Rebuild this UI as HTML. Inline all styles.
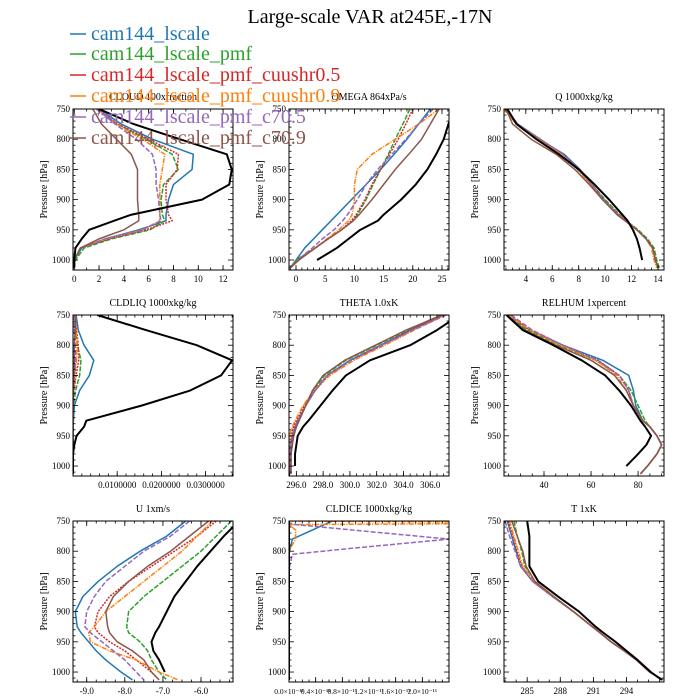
<!DOCTYPE html>
<html><head><meta charset="utf-8"><style>
html,body{margin:0;padding:0;background:#fff;}
svg{display:block;font-family:"Liberation Serif",serif;}
</style></head><body>
<svg id="chart" width="700" height="700" viewBox="0 0 700 700" xmlns="http://www.w3.org/2000/svg">
<rect width="700" height="700" fill="#fff"/>
<text x="370" y="23" font-size="20" text-anchor="middle">Large-scale VAR at245E,-17N</text>
</svg>
<script>
// ---- data ----
const seriesNames = ["cam144_lscale","cam144_lscale_pmf","cam144_lscale_pmf_cuushr0.5","cam144_lscale_pmf_cuushr0.9","cam144_lscale_pmf_c70.5","cam144_lscale_pmf_c70.9","obs"];
const levels = [750,775,800,825,850,875,900,925,935,950,965,980,1000,1013];
const iceLevels = [750,753,756,765,780,795,805,830,1013];
const cloudVals = [
 [2,3.8,6.3,9.6,9.5,8.0,7.6,7.4,7.4,5.2,2.5,0.6,0,0],
 [1.8,3.5,5.8,7.9,8.4,7.2,7.0,7.1,7.3,6.1,3,0.8,0.1,0],
 [1.9,3.5,6.0,8.4,8.3,7.4,7.4,7.6,7.9,5.8,2.8,0.5,0,0],
 [1.8,3.4,5.5,7.3,7.1,6.9,6.9,6.9,6.9,5.5,2.5,0.5,0,0],
 [1.8,3.3,5.0,6.3,6.6,6.6,6.8,6.9,7.0,5.5,2.5,0.5,0,0],
 [1.5,2.2,3.4,4.6,5.1,5.1,5.1,5.2,5.2,4.0,2.0,0.5,0,0],
 [2,4.8,8.5,12.3,12.7,12.5,10.3,4.6,3.2,1.2,0.6,0.1,0,0]];
const omegaVals = [
 [23,21,19,16.8,14.5,12,9.5,7,6,4.5,3,1.5,0,-1],
 [19.5,18.3,17,15.8,14.5,13.2,12,10.5,9.8,7.8,5.5,3.3,0,-1],
 [20,18.8,17.5,16,14.5,13,11.8,10.3,9.5,7.8,5.5,3.3,0.3,-1],
 [24.5,21,17,13,10.5,10,10,9.6,9,7.3,5.3,3.3,0.5,-1],
 [23.5,21,18.8,16.4,14,12,10.5,8.8,8,6.5,4.5,2.8,0.3,-1],
 [24.5,23,21.5,19.3,17,15,13,10.8,9.8,7.8,5.5,3.3,0.5,-1],
 [27,26.1,25.3,24,22.5,20.5,18,15,14,11,9,7,3.6,null]];
const qVals = [
 [2.4,3.3,5.0,6.9,8.1,9.0,9.9,11.0,11.6,12.4,13.1,13.6,13.8,14],
 [2.4,3.4,5.1,6.8,8.0,9.0,10.0,11.1,11.6,12.5,13.2,13.7,13.9,14.1],
 [2.4,3.3,5.0,6.8,8.0,8.9,9.9,11.0,11.6,12.4,13.1,13.6,13.8,14],
 [2.3,3.3,5.0,6.7,7.9,8.9,9.8,11.0,11.6,12.4,13.1,13.5,13.7,13.9],
 [2.5,3.4,5.1,6.8,8.0,9.0,9.9,11.0,11.6,12.4,13.1,13.6,13.8,14],
 [2.5,3.0,4.4,6.3,7.7,8.8,9.8,10.9,11.5,12.4,13.1,13.6,13.8,14],
 [2.6,3.3,4.8,6.5,8.0,9.2,10.3,11.3,11.7,12.1,12.4,12.6,12.8,null]];
const liqVals = [
 [0.0007,0.0012,0.0025,0.0047,0.0037,0.0015,0.0003,0.0001,0,0,0,0,0,0],
 [0.0002,0.0005,0.001,0.0018,0.0015,0.0006,0.0001,0,0,0,0,0,0,0],
 [0.0005,0.0008,0.0012,0.0013,0.0007,0.0002,0,0,0,0,0,0,0,0],
 [0.0006,0.0007,0.0009,0.0008,0.0004,0.0001,0,0,0,0,0,0,0,0],
 [0.0002,0.0003,0.0005,0.0006,0.0003,0.0001,0,0,0,0,0,0,0,0],
 [0.0006,0.0005,0.0003,0.0003,0.0002,0.0001,0,0,0,0,0,0,0,0],
 [0.0055,0.0165,0.028,0.036,0.0335,0.0265,0.0155,0.003,0.0025,0.0008,0.0003,0,0,0]];
const thetaVals = [
 [307,304.5,302.3,300,298.3,297.4,296.7,296.1,295.9,295.7,295.6,295.5,295.5,295.5],
 [306.8,304.3,302.0,299.7,298.1,297.3,296.7,296.2,296.0,295.8,295.7,295.6,295.6,295.6],
 [307,304.6,302.4,300.1,298.4,297.4,296.6,296.0,295.8,295.6,295.5,295.5,295.5,295.5],
 [307.1,304.8,302.6,300.3,298.5,297.3,296.5,295.9,295.7,295.5,295.4,295.4,295.4,295.4],
 [307.2,304.7,302.4,300.1,298.3,297.4,296.7,296.1,295.9,295.7,295.6,295.5,295.5,295.5],
 [306.9,304.2,301.9,299.6,298.0,297.2,296.7,296.2,296.0,295.8,295.7,295.6,295.6,295.6],
 [308.2,306.5,304.5,301.5,299.7,298.7,297.8,296.9,296.5,296.1,296.0,295.9,295.9,null]];
const rhVals = [
 [25,34,48,65,76,78,79,82,85,88,90,88,84,81],
 [24,33,46,62,72,77,80,83,85,88,90,88,84,81],
 [25,34,48,63,72,76,78,82,85,88,90,88,84,81],
 [25,34,47,62,71,75,78,82,85,88,90,88,84,81],
 [26,35,48,63,72,76,78,82,85,88,90,88,84,81],
 [24,32,45,60,70,75,78,82,85,88,90,88,84,81],
 [24,31,44,56,66,72,77,81,83,85.5,83.5,80,75,null]];
const uVals = [
 [-6.4,-6.9,-7.6,-8.2,-8.7,-9.1,-9.3,-9.25,-9.15,-8.95,-8.75,-8.5,-8.1,-7.8],
 [-5.2,-5.6,-6.0,-6.5,-7.0,-7.5,-7.9,-7.95,-7.9,-7.6,-7.4,-7.3,-7.1,-6.9],
 [-5.6,-6.1,-6.7,-7.3,-7.9,-8.4,-8.7,-8.8,-8.7,-8.4,-8.0,-7.7,-7.3,-7.1],
 [-5.7,-6.1,-6.5,-7.0,-7.5,-8.0,-8.5,-8.8,-8.95,-8.9,-8.4,-7.7,-7.1,-6.6],
 [-6.3,-6.8,-7.5,-8.0,-8.5,-8.8,-9.0,-9.05,-8.9,-8.6,-8.3,-8.0,-7.7,-7.5],
 [-5.8,-6.3,-6.8,-7.4,-7.9,-8.3,-8.5,-8.45,-8.4,-8.2,-7.8,-7.5,-7.3,-7.1],
 [-5.0,-5.4,-5.75,-6.1,-6.4,-6.7,-6.9,-7.1,-7.2,-7.3,-7.25,-7.1,-6.95,null]];
const iceVals = [
 [0.65,0.59,0.53,0.35,0.05,0.02,0,0,0],
 [0,0,0,0,0,0,0,0,0],
 [0,0,0,0,0,0,0,0,0],
 [0,5,0,0.1,0.1,0.02,0,0,0],
 [0,0,0.1,0.96,2.4,0.96,0.05,0,0],
 [0,0,0,0,0,0,0,0,0],
 [0,0,0,0,0,0,0,0,0]];
const tVals = [
 [283.2,283.6,284.0,284.4,285.5,287.3,289.2,290.9,291.6,292.6,293.8,294.9,296.1,297.3],
 [283.8,284.1,284.5,284.8,285.7,287.4,289.2,290.9,291.6,292.6,293.8,294.9,296.1,297.3],
 [283.3,283.7,284.1,284.5,285.5,287.3,289.2,290.9,291.6,292.6,293.8,294.9,296.1,297.3],
 [283.4,283.8,284.2,284.6,285.6,287.3,289.2,290.9,291.6,292.6,293.8,294.9,296.1,297.3],
 [283.0,283.4,283.9,284.4,285.5,287.3,289.2,290.9,291.6,292.6,293.8,294.9,296.1,297.3],
 [283.6,284.1,284.6,284.9,285.7,287.4,289.2,290.9,291.6,292.6,293.8,294.9,296.1,297.3],
 [285,285.2,285.2,285.2,286,287.8,289.7,291.2,291.9,293,294,295,296.2,297.2]];
const pTicks = [750,800,850,900,950,1000];
const cloudTicks = [0,2,4,6,8,10,12];
const omegaTicks = [0,5,10,15,20,25];
const qTicks = [4,6,8,10,12,14];
const liqTicks = [0.01,0.02,0.03];
const liqTickLabels = ["0.0100000","0.0200000","0.0300000"];
const thetaTicks = [296,298,300,302,304,306];
const rhTicks = [40,60,80];
const uTicks = [-9,-8,-7,-6];
const iceTicks = [0,0.4,0.8,1.2,1.6,2.0];
const tTicks = [285,288,291,294];

const colors = ["#1f77b4","#2ca02c","#d62728","#ff7f0e","#9467bd","#8c564b","#000"];
const dashes = ["","5,1.5","2,1.2","5,1.2,1.2,1.2","5,2","",""];
const NS="http://www.w3.org/2000/svg";
const svg=document.getElementById('chart');
function mk(tag,attrs,parent){const e=document.createElementNS(NS,tag);for(const k in attrs)e.setAttribute(k,attrs[k]);(parent||svg).appendChild(e);return e;}

const panels=[
 {name:"cloud",title:"CLOUD  100xfraction",col:0,row:0,xmin:-0.1,xmax:12.8,vals:cloudVals,lv:levels,ticks:cloudTicks,fmt:v=>String(v),minor:1},
 {name:"omega",title:"OMEGA  864xPa/s",col:1,row:0,xmin:-1.2,xmax:26.2,vals:omegaVals,lv:levels,ticks:omegaTicks,fmt:v=>String(v),minor:1},
 {name:"q",title:"Q  1000xkg/kg",col:2,row:0,xmin:2.35,xmax:14.45,vals:qVals,lv:levels,ticks:qTicks,fmt:v=>String(v),minor:0.5},
 {name:"cldliq",title:"CLDLIQ  1000xkg/kg",col:0,row:1,xmin:0,xmax:0.0362,vals:liqVals,lv:levels,ticks:liqTicks,fmt:(v,i)=>liqTickLabels[i],minor:0.002},
 {name:"theta",title:"THETA  1.0xK",col:1,row:1,xmin:295.45,xmax:307.4,vals:thetaVals,lv:levels,ticks:thetaTicks,fmt:v=>v.toFixed(1),minor:0.5},
 {name:"relhum",title:"RELHUM  1xpercent",col:2,row:1,xmin:23,xmax:91,vals:rhVals,lv:levels,ticks:rhTicks,fmt:v=>String(v),minor:5},
 {name:"u",title:"U  1xm/s",col:0,row:2,xmin:-9.36,xmax:-5.16,vals:uVals,lv:levels,ticks:uTicks,fmt:v=>v.toFixed(1),minor:0.25},
 {name:"cldice",title:"CLDICE  1000xkg/kg",col:1,row:2,xmin:0,xmax:2.4,vals:iceVals,lv:iceLevels,ticks:iceTicks,fmt:v=>v.toFixed(1)+"\u00d710\u207b\u00b9\u00b9",minor:0.1},
 {name:"t",title:"T  1xK",col:2,row:2,xmin:282.9,xmax:297.4,vals:tVals,lv:levels,ticks:tTicks,fmt:v=>String(v),minor:1}
];
const colX=[73,289,504], rowY=[109,315,521], W=160, H=161, PMAX=1016.5;

panels.forEach(p=>{
 const x0=colX[p.col], y0=rowY[p.row];
 const xs=v=>x0+(v-p.xmin)/(p.xmax-p.xmin)*W;
 const ys=v=>y0+(v-750)/(PMAX-750)*H;
 const g=mk('g',{});
 
 
 const cid='clip-'+p.name;
 const cp=mk('clipPath',{id:cid},g); mk('rect',{x:x0,y:y0,width:W,height:H},cp);
 const t=mk('text',{x:x0+W/2,y:y0-9,'font-size':10,'text-anchor':'middle'},g);
  
 t.textContent=p.title;
 const yl=mk('text',{x:0,y:0,'font-size':10,'text-anchor':'middle',transform:`translate(${x0-26},${y0+H/2}) rotate(-90)`},g);
  
 yl.textContent='Pressure [hPa]';
 // series
 const lg=mk('g',{'clip-path':`url(#${cid})`},g);
 p.vals.forEach((arr,si)=>{
  let d='';let started=false;
  arr.forEach((v,i)=>{ if(v===null) return; d+=(started?'L':'M')+xs(v).toFixed(2)+','+ys(p.lv[i]).toFixed(2); started=true;});
  const path=mk('path',{d:d,fill:'none',stroke:colors[si],'stroke-width':si===6?2:1.5,'stroke-dasharray':dashes[si]||'none','stroke-linejoin':'round'},lg);
  
  
 });
 // frame
 const fr=mk('rect',{x:x0,y:y0,width:W,height:H,fill:'none',stroke:'#000','stroke-width':1},g);
  
 // y ticks
 for(let pv=750;pv<=PMAX;pv+=10){
  const yy=ys(pv), major=pv%50===0, L=major?5:2.5;
  mk('line',{x1:x0,x2:x0+L,y1:yy,y2:yy,stroke:'#000','stroke-width':0.8},g);
  mk('line',{x1:x0+W,x2:x0+W-L,y1:yy,y2:yy,stroke:'#000','stroke-width':0.8},g);
 }
 pTicks.forEach(pv=>{
  const tl=mk('text',{x:x0-3,y:ys(pv)+3,'font-size':9,'text-anchor':'end'},g);
   
  tl.textContent=String(pv);
 });
 // x ticks
 const start=Math.ceil(p.xmin/p.minor-1e-9)*p.minor;
 for(let v=start;v<=p.xmax+1e-12;v+=p.minor){
  const xx=xs(v);
  mk('line',{x1:xx,x2:xx,y1:y0+H,y2:y0+H-2.5,stroke:'#000','stroke-width':0.8},g);
  mk('line',{x1:xx,x2:xx,y1:y0,y2:y0+2.5,stroke:'#000','stroke-width':0.8},g);
 }
 p.ticks.forEach((v,i)=>{
  const xx=xs(v);
  mk('line',{x1:xx,x2:xx,y1:y0+H,y2:y0+H-5,stroke:'#000','stroke-width':0.8},g);
  mk('line',{x1:xx,x2:xx,y1:y0,y2:y0+5,stroke:'#000','stroke-width':0.8},g);
  const tl=mk('text',{x:xx,y:y0+H+12,'font-size':p.name==='cldice'?7.5:9,'text-anchor':'middle'},g);
   
  tl.textContent=p.fmt(v,i);
 });
});

// legend on top
const legY=[34,54,75,96,117,138];
const lgG=mk('g',{});
 
legY.forEach((y,i)=>{
 const ln=mk('line',{x1:70,x2:86,y1:y,y2:y,stroke:colors[i],'stroke-width':1.5},lgG);
  
 const tx=mk('text',{x:91,y:y+6,'font-size':20,fill:colors[i]},lgG);
  
 tx.textContent=seriesNames[i];
});
</script>
</body></html>
